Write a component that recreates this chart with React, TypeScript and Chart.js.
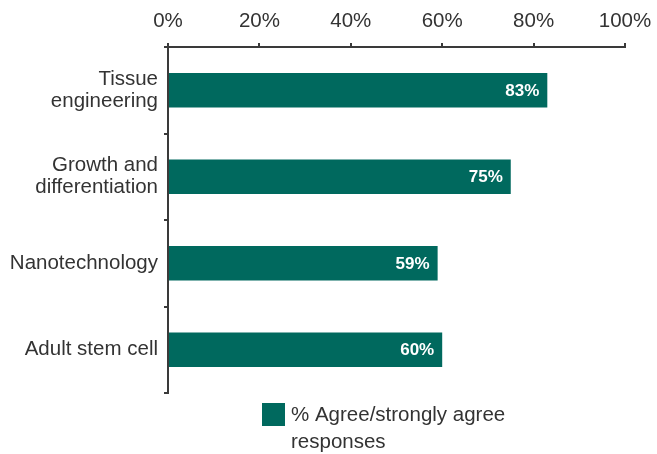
import React, { useEffect, useRef } from "react";
import { Chart, registerables } from "chart.js";

Chart.register(...registerables);

const categories: string[][] = [
  ["Tissue", "engineering"],
  ["Growth and", "differentiation"],
  ["Nanotechnology"],
  ["Adult stem cell"],
];
const agreeValues: number[] = [83, 75, 59, 60];
const seriesLabel = "% Agree/strongly agree responses";
const legendLines: string[] = ["% Agree/strongly agree", "responses"];
const xTickValues: number[] = [0, 20, 40, 60, 80, 100];

const TEAL = "#00695E";
const TEXT = "#333333";
const AXIS = "#3a3a3a";
const FONT = "'Liberation Sans', Arial, sans-serif";

const valueLabelPlugin = {
  id: "valueLabels",
  afterDatasetsDraw(chart: any) {
    const ctx = chart.ctx;
    const meta = chart.getDatasetMeta(0);
    const data = chart.data.datasets[0].data;
    ctx.save();
    ctx.fillStyle = "#ffffff";
    ctx.font = `bold 17px ${FONT}`;
    ctx.textAlign = "right";
    ctx.textBaseline = "middle";
    meta.data.forEach((bar: any, i: number) => {
      ctx.fillText(`${data[i]}%`, bar.x - 8, bar.y + 1);
    });
    ctx.restore();
  },
};

const customLegendPlugin = {
  id: "customLegend",
  afterDraw(chart: any) {
    const ctx = chart.ctx;
    const ds = chart.data.datasets[0];
    const boxX = 262;
    const boxY = 403;
    const box = 23;
    ctx.save();
    ctx.fillStyle = ds.backgroundColor;
    ctx.fillRect(boxX, boxY, box, box);
    ctx.fillStyle = TEXT;
    ctx.font = `20.5px ${FONT}`;
    ctx.textAlign = "left";
    ctx.textBaseline = "middle";
    legendLines.forEach((line, i) => {
      ctx.fillText(line, boxX + box + 6, boxY + 12 + i * 27);
    });
    ctx.restore();
  },
};

export default function App() {
  const ref = useRef<HTMLCanvasElement | null>(null);
  useEffect(() => {
    document.body.style.margin = "0";
    if (!ref.current) return;
    const chart = new Chart(ref.current, {
      type: "bar",
      data: {
        labels: categories,
        datasets: [
          {
            label: seriesLabel,
            data: agreeValues,
            backgroundColor: TEAL,
            borderWidth: 0,
            categoryPercentage: 1,
            barPercentage: 0.4,
          },
        ],
      },
      options: {
        indexAxis: "y",
        responsive: false,
        animation: false,
        layout: { padding: { top: 0, bottom: 61, left: 0, right: 32 } },
        plugins: {
          legend: { display: false },
          tooltip: { enabled: false },
        },
        scales: {
          x: {
            position: "top",
            min: 0,
            max: 100,
            afterBuildTicks(scale: any) {
              scale.ticks = xTickValues.map((v) => ({ value: v }));
            },
            afterFit(scale: any) {
              scale.height = 47;
              scale.paddingLeft = 0;
              scale.paddingRight = 0;
            },
            ticks: {
              callback: (v: any) => `${v}%`,
              color: TEXT,
              font: { family: FONT, size: 20.5 },
              padding: 9,
              maxRotation: 0,
            },
            grid: {
              drawOnChartArea: false,
              drawTicks: true,
              tickLength: 4,
              color: AXIS,
              lineWidth: 2,
            },
            border: { display: true, color: AXIS, width: 2 },
          },
          y: {
            afterFit(scale: any) {
              scale.width = 168;
            },
            ticks: {
              color: TEXT,
              font: { family: FONT, size: 20.5, lineHeight: 1.08 },
              padding: 6,
            },
            grid: {
              drawOnChartArea: false,
              drawTicks: true,
              tickLength: 4,
              offset: true,
              color: AXIS,
              lineWidth: 2,
            },
            border: { display: true, color: AXIS, width: 2 },
          },
        },
      } as any,
      plugins: [valueLabelPlugin, customLegendPlugin],
    });
    return () => chart.destroy();
  }, []);
  return (
    <div style={{ width: 657, height: 454 }}>
      <canvas ref={ref} width={657} height={454} style={{ display: "block" }} />
    </div>
  );
}
